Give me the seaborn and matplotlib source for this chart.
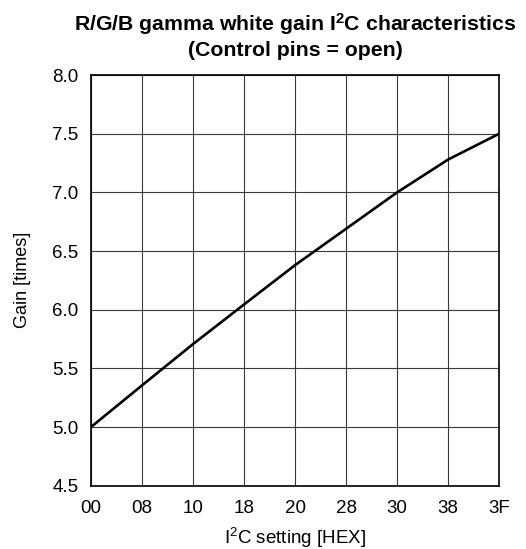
import matplotlib
matplotlib.use("Agg")
import matplotlib.pyplot as plt
import seaborn as sns
import pandas as pd

# Data
x_setting = [0, 8, 16, 24, 32, 40, 48, 56, 64]
gain = [5.0, 5.355, 5.707, 6.045, 6.38, 6.69, 7.0, 7.28, 7.5]
x_tick_pos = [0, 8, 16, 24, 32, 40, 48, 56, 64]
x_tick_labels = ["00", "08", "10", "18", "20", "28", "30", "38", "3F"]
y_ticks = [4.5, 5.0, 5.5, 6.0, 6.5, 7.0, 7.5, 8.0]

sns.set_style("white")
plt.rcParams['font.family'] = ['Liberation Sans', 'DejaVu Sans']
plt.rcParams['text.color'] = 'black'
plt.rcParams['axes.labelcolor'] = 'black'
plt.rcParams['mathtext.fontset'] = 'custom'
plt.rcParams['mathtext.rm'] = 'Liberation Sans'
plt.rcParams['mathtext.it'] = 'Liberation Sans:italic'
plt.rcParams['mathtext.bf'] = 'Liberation Sans:bold'

df = pd.DataFrame({"setting": x_setting, "gain": gain})

fig = plt.figure(figsize=(5.26, 5.49), dpi=100)
ax = fig.add_axes([0.173, 0.1153, 0.776, 0.748])

sns.lineplot(data=df, x="setting", y="gain", ax=ax, color="black", linewidth=1.9)

ax.set_xlim(0, 64)
ax.set_ylim(4.5, 8.0)
ax.set_xticks(x_tick_pos)
ax.set_xticklabels(x_tick_labels)
ax.set_yticks(y_ticks)
ax.set_yticklabels([f"{v:.1f}" for v in y_ticks])
ax.tick_params(axis="both", labelsize=13.5, length=0, colors="black")
ax.tick_params(axis="x", pad=10)
ax.tick_params(axis="y", pad=9)
ax.grid(True, color="#3a3a3a", linewidth=0.8)
ax.set_axisbelow(True)
for s in ax.spines.values():
    s.set_color("black")
    s.set_linewidth(1.2)

ax.set_xlabel(r"I$^{\mathrm{2}}$C setting [HEX]", fontsize=13.5, labelpad=6.5)
ax.set_ylabel("Gain [times]", fontsize=13, labelpad=15)
ax.set_title("R/G/B gamma white gain I$^{\\mathbf{2}}$C characteristics\n(Control pins = open)",
             fontsize=15.3, fontweight="bold", pad=14, linespacing=1.25)

fig.savefig("out.png", dpi=100)
